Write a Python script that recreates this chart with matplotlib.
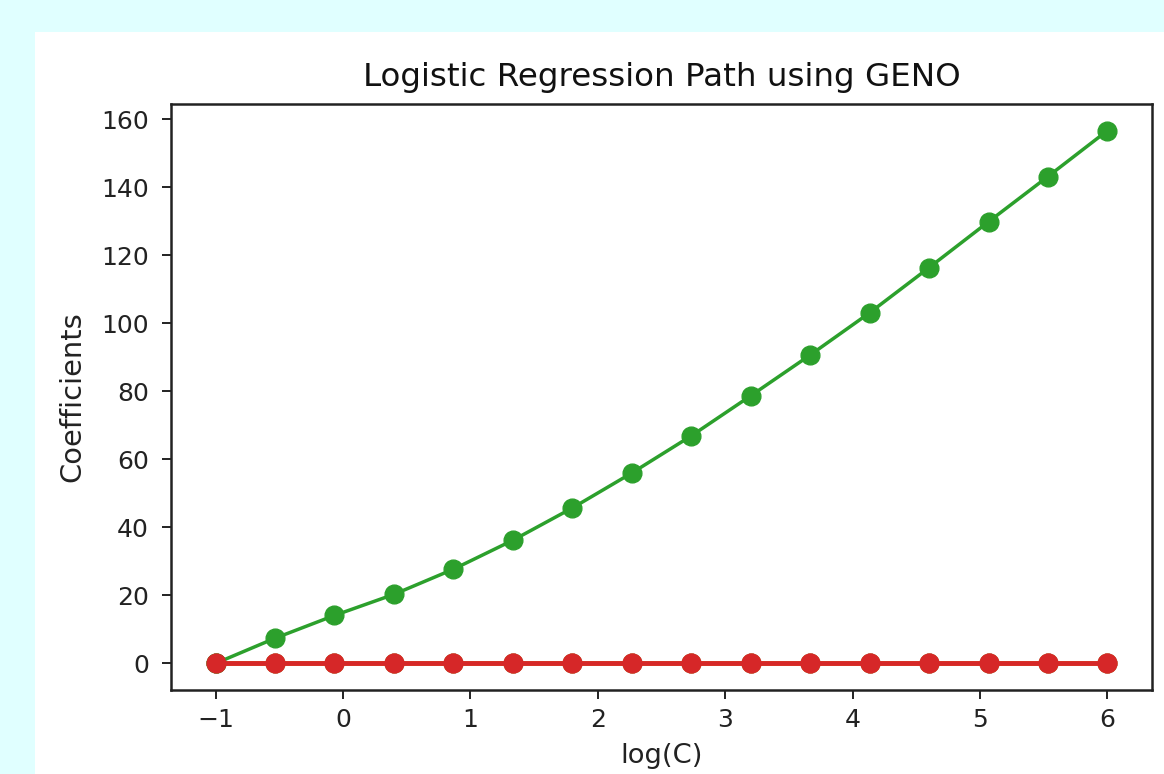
import matplotlib
matplotlib.use("Agg")
import matplotlib.pyplot as plt
from matplotlib.patches import Rectangle

log_C = [-1.0, -0.533, -0.067, 0.4, 0.867, 1.333, 1.8, 2.267, 2.733, 3.2,
         3.667, 4.133, 4.6, 5.067, 5.533, 6.0]
coef_0 = [0.0] * 16
coef_1 = [0.0] * 16
coef_2 = [0.0, 7.4, 14.1, 20.3, 27.7, 36.2, 45.7, 56.0, 66.9, 78.7,
          90.7, 103.1, 116.4, 129.9, 143.2, 156.7]
coef_3 = [0.0] * 16
series = [coef_0, coef_1, coef_2, coef_3]
colors = ["#1f77b4", "#ff7f0e", "#2ca02c", "#d62728"]
line_widths = [3.4, 3.4, 2.5, 3.4]

fig = plt.figure(figsize=(11.64, 7.74), dpi=100)
fig.patch.set_facecolor("#e0ffff")
bg = Rectangle((35 / 1164, 0), 1 - 35 / 1164, 1 - 32 / 774,
               transform=fig.transFigure, facecolor="white",
               edgecolor="none", zorder=-10)
fig.add_artist(bg)

ax = fig.add_axes([171 / 1164, 1 - 690 / 774, (1152 - 171) / 1164, (690 - 104) / 774])
ax.set_zorder(5)
for vals, c, lw in zip(series, colors, line_widths):
    ax.plot(log_C, vals, marker="o", color=c, linewidth=lw, markersize=13.5)

ax.set_title("Logistic Regression Path using GENO", fontsize=23.4, pad=13, color="#111111")
ax.set_xlabel("log(C)", fontsize=19.7, labelpad=8, color="#222222")
ax.set_ylabel("Coefficients", fontsize=20.8, labelpad=10.5, color="#222222")
ax.tick_params(labelsize=18, length=6.5, width=1.4, colors="#222222", labelcolor="#222222")
ax.tick_params(axis="y", pad=9.5)
ax.tick_params(axis="x", pad=6.5)
for s in ax.spines.values():
    s.set_linewidth(1.8)
    s.set_color("#222222")
ax.set_yticks([0, 20, 40, 60, 80, 100, 120, 140, 160])
ax.set_xticks([-1, 0, 1, 2, 3, 4, 5, 6])

fig.savefig("out.png", dpi=100, facecolor=fig.get_facecolor())
